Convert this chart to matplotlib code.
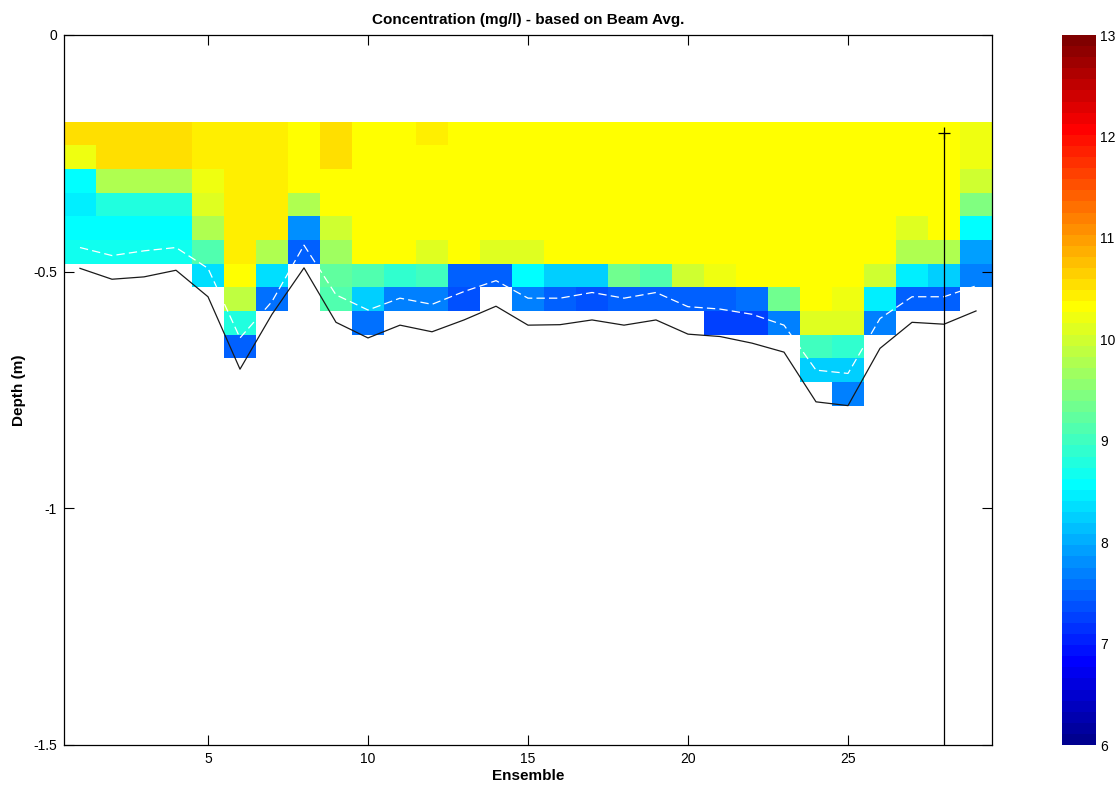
import numpy as np
import matplotlib
matplotlib.use("Agg")
import matplotlib.pyplot as plt
from matplotlib.colors import ListedColormap

plt.rcParams['font.family'] = ['Liberation Sans', 'DejaVu Sans']
plt.rcParams['lines.scale_dashes'] = False

# ---------------- data ----------------
ensembles = list(range(1, 30))
bin_top = -0.183          # top of first depth cell (m)
bin_size = 0.05           # depth cell size (m)
n_bins = 12

Y = 10.32   # yellow
conc_cols = [
    [10.54, 10.21, 8.57, 8.46, 8.57, 8.68],                               # 1
    [10.54, 10.54, 9.77, 8.79, 8.62, 8.70],                               # 2
    [10.54, 10.54, 9.77, 8.79, 8.62, 8.70],                               # 3
    [10.54, 10.54, 9.77, 8.79, 8.62, 8.70],                               # 4
    [10.43, 10.43, 10.21, 10.10, 9.77, 9.12, 8.35],                       # 5
    [10.43, 10.43, 10.43, 10.43, 10.43, 10.43, 10.32, 9.88, 8.79, 7.48],  # 6
    [10.43, 10.43, 10.43, 10.43, 10.43, 9.77, 8.35, 7.59],                # 7
    [10.32, 10.32, 10.32, 9.77, 7.80, 7.48],                              # 8
    [10.54, 10.54, 10.32, 10.32, 9.99, 9.66, 9.20, 9.12],                 # 9
    [Y, Y, Y, Y, Y, Y, 9.12, 8.24, 7.59],                                 # 10
    [Y, Y, Y, Y, Y, Y, 8.90, 7.69],                                       # 11
    [10.43, Y, Y, Y, Y, 10.10, 9.01, 7.69],                               # 12
    [Y, Y, Y, Y, Y, Y, 7.48, 7.37],                                       # 13
    [Y, Y, Y, Y, Y, 10.10, 7.48],                                         # 14
    [Y, Y, Y, Y, Y, 10.10, 8.57, 7.69],                                   # 15
    [Y, Y, Y, Y, Y, Y, 8.24, 7.45],                                       # 16
    [Y, Y, Y, Y, Y, Y, 8.24, 7.37],                                       # 17
    [Y, Y, Y, Y, Y, Y, 9.34, 7.48],                                       # 18
    [Y, Y, Y, Y, Y, Y, 9.12, 7.48],                                       # 19
    [Y, Y, Y, Y, Y, Y, 9.99, 7.48],                                       # 20
    [Y, Y, Y, Y, Y, Y, 10.21, 7.48, 7.30],                                # 21
    [Y, Y, Y, Y, Y, Y, Y, 7.59, 7.30],                                    # 22
    [Y, Y, Y, Y, Y, Y, Y, 9.34, 7.69],                                    # 23
    [Y, Y, Y, Y, Y, Y, Y, Y, 10.10, 9.01, 8.24],                          # 24
    [Y, Y, Y, Y, Y, Y, Y, 10.21, 10.10, 8.90, 8.24, 7.69],                # 25
    [Y, Y, Y, Y, Y, Y, 9.99, 8.50, 7.69],                                 # 26
    [Y, Y, Y, Y, 10.10, 9.80, 8.46, 7.48],                                # 27
    [Y, Y, Y, Y, Y, 9.80, 8.24, 7.48],                                    # 28
    [10.21, 10.21, 9.99, 9.45, 8.57, 7.91, 7.69],                         # 29
]

bottom_depth = [-0.493, -0.516, -0.511, -0.497, -0.553, -0.706, -0.590, -0.492,
                -0.607, -0.640, -0.613, -0.627, -0.602, -0.573, -0.613, -0.612,
                -0.602, -0.613, -0.602, -0.632, -0.637, -0.651, -0.670, -0.775,
                -0.783, -0.662, -0.607, -0.611, -0.583]

dashed_depth = [-0.449, -0.466, -0.456, -0.449, -0.493, -0.640, -0.563, -0.444,
                -0.549, -0.581, -0.556, -0.569, -0.542, -0.519, -0.556, -0.556,
                -0.544, -0.556, -0.544, -0.574, -0.579, -0.590, -0.613, -0.708,
                -0.715, -0.599, -0.553, -0.553, -0.530]

marker_ens = 28
marker_top = -0.208
title_text = "Concentration (mg/l) - based on Beam Avg."
xlabel_text = "Ensemble"
ylabel_text = "Depth (m)"
vmin, vmax = 6, 13

# ---------------- MATLAB jet(64) ----------------
def matlab_jet(m=64):
    n = int(np.ceil(m / 4))
    u = np.concatenate([np.arange(1, n + 1) / n, np.ones(n - 1), np.arange(n, 0, -1) / n])
    g = int(np.ceil(n / 2)) - (1 if m % 4 == 1 else 0) + np.arange(1, len(u) + 1)
    r = g + n
    b = g - n
    r = r[r <= m]
    g = g[g <= m]
    b = b[b >= 1]
    J = np.zeros((m, 3))
    J[r - 1, 0] = u[:len(r)]
    J[g - 1, 1] = u[:len(g)]
    J[b - 1, 2] = u[len(u) - len(b):]
    return ListedColormap(J)

cmap = matlab_jet(64)
cmap.set_bad((1, 1, 1, 0))

# ---------------- grid ----------------
C = np.full((n_bins, len(ensembles)), np.nan)
for j, col in enumerate(conc_cols):
    C[:len(col), j] = col
x_edges = np.arange(len(ensembles) + 1) + 0.5
y_edges = bin_top - bin_size * np.arange(n_bins + 1)

fig = plt.figure(figsize=(11.19, 7.87), dpi=100)
ax = fig.add_axes([64 / 1119, 42 / 787, 928 / 1119, 710 / 787])
cax = fig.add_axes([1062 / 1119, 42 / 787, 34 / 1119, 710 / 787])

mesh = ax.pcolormesh(x_edges, y_edges, np.ma.masked_invalid(C), cmap=cmap,
                     vmin=vmin, vmax=vmax, shading='flat')

ax.plot(ensembles, bottom_depth, color='#1a1a1a', lw=0.9)
ax.plot(ensembles, dashed_depth, color='white', lw=0.9, dashes=(6, 3))
ax.plot([marker_ens, marker_ens], [marker_top, -1.5], color='black', lw=0.9)
ax.plot([marker_ens], [marker_top], marker='+', color='black', ms=9, mew=0.9)

ax.set_xlim(0.5, 29.5)
ax.set_ylim(-1.5, 0)
ax.set_xticks([5, 10, 15, 20, 25])
ax.set_yticks([-1.5, -1, -0.5, 0])
ax.set_yticklabels(['-1.5', '-1', '-0.5', '0'])
ax.tick_params(direction='in', length=7, width=0.8, top=True, right=True,
               labelsize=10, colors='black', pad=5)
for s in ax.spines.values():
    s.set_linewidth(0.9)
    s.set_color('black')

ax.set_title(title_text, fontsize=11, fontweight='bold', pad=8)
ax.set_xlabel(xlabel_text, fontsize=11, fontweight='bold', labelpad=2)
ax.set_ylabel(ylabel_text, fontsize=11, fontweight='bold', labelpad=5)

cb = fig.colorbar(mesh, cax=cax)
cb.set_ticks(list(range(6, 14)))
cb.ax.tick_params(length=0, labelsize=10, pad=3)
cb.outline.set_linewidth(0)

fig.savefig("out.png", dpi=100)
